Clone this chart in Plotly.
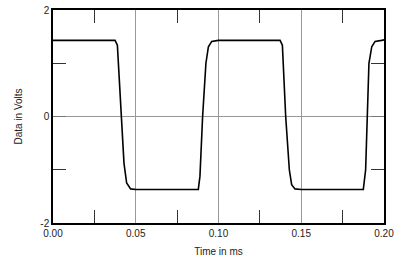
import plotly.graph_objects as go

time_ms = [0.000, 0.0100, 0.0375, 0.0389, 0.0411, 0.0429, 0.0445, 0.0469, 0.0500,
           0.0878, 0.0888, 0.0904, 0.0924, 0.0939, 0.0959, 0.0999,
           0.1372, 0.1386, 0.1406, 0.1428, 0.1442, 0.1462, 0.1500,
           0.1875, 0.1889, 0.1899, 0.1909, 0.1926, 0.1946, 0.1986, 0.2000]
volts = [1.43, 1.43, 1.43, 1.34, 0.0, -0.88, -1.25, -1.36, -1.37,
         -1.37, -1.12, 0.0, 1.0, 1.31, 1.41, 1.43,
         1.43, 1.34, 0.0, -1.0, -1.28, -1.36, -1.37,
         -1.37, -1.0, 0.0, 1.0, 1.31, 1.41, 1.43, 1.44]

x_ticks = [0.00, 0.05, 0.10, 0.15, 0.20]
x_labels = ["0.00", "0.05", "0.10", "0.15", "0.20"]
y_ticks = [-2, 0, 2]
y_labels = ["-2", "0", "2"]

fig = go.Figure()
fig.add_trace(go.Scatter(x=time_ms, y=volts, mode="lines",
                         line=dict(color="black", width=1.6), hoverinfo="skip"))

font = dict(family="Liberation Sans, Arial, Helvetica, sans-serif", size=10, color="#222")

fig.update_layout(
    width=400, height=275,
    margin=dict(l=53, r=16, t=10, b=52, autoexpand=False),
    paper_bgcolor="white", plot_bgcolor="white",
    showlegend=False, font=font,
    xaxis=dict(range=[0, 0.2], tickvals=x_ticks, ticktext=x_labels, automargin=False,
               showgrid=True, gridcolor="#999", gridwidth=1,
               showline=True, linecolor="black", linewidth=1.5, mirror="allticks",
               ticks="", zeroline=False,
               minor=dict(tickvals=[0.025, 0.075, 0.125, 0.175], ticks="inside",
                          ticklen=13, tickcolor="#333", tickwidth=1, showgrid=False),
               title=dict(text="Time in ms", standoff=10, font=font)),
    yaxis=dict(range=[-2, 2], tickvals=y_ticks, ticktext=y_labels, automargin=False,
               showgrid=True, gridcolor="#999", gridwidth=1,
               showline=True, linecolor="black", linewidth=1.5, mirror="allticks",
               ticks="inside", ticklen=13, tickcolor="#777", zeroline=False,
               minor=dict(tickvals=[-1, 1], ticks="inside",
                          ticklen=13, tickcolor="#333", tickwidth=1, showgrid=False),
               title=dict(text="Data in Volts", standoff=16, font=font)),
)

fig.write_html("out.html")
